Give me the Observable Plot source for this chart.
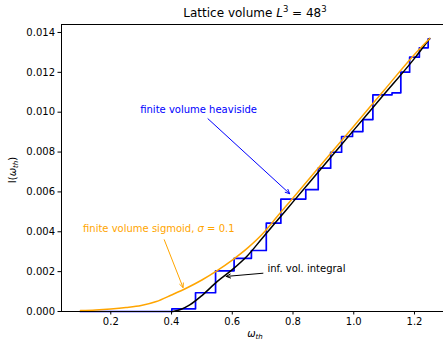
<!DOCTYPE html>
<html><head><meta charset="utf-8">
<script src="https://cdn.jsdelivr.net/npm/d3@7"></script>
<script src="https://cdn.jsdelivr.net/npm/@observablehq/plot@0.6"></script>
<style>
html,body{margin:0;padding:0;background:#fff}
svg{font-family:"DejaVu Sans",sans-serif}
</style>
</head><body><div id="chart"></div>
<script>
// finite volume heaviside (step function)
const stepX = [0.10, 0.401, 0.479, 0.545, 0.606, 0.663, 0.712, 0.760, 0.842, 0.883, 0.924, 0.960, 0.996, 1.030, 1.063, 1.126, 1.155, 1.184, 1.216, 1.245, 1.25];
const stepY = [0, 0.000135, 0.00094, 0.00204, 0.00267, 0.00306, 0.00443, 0.00564, 0.00611, 0.00719, 0.00799, 0.00878, 0.00903, 0.00963, 0.01087, 0.01097, 0.01201, 0.01276, 0.01323, 0.01368, 0.01368];
// infinite volume integral
const infX = [0.404, 0.43, 0.46, 0.50, 0.55, 0.60, 0.65, 0.70, 0.75, 0.80, 0.90, 1.00, 1.10, 1.20, 1.25];
const infY = [0, 0.0001, 0.00033, 0.0008, 0.0015, 0.0021, 0.0028, 0.0037, 0.0046, 0.0055, 0.0073, 0.0091, 0.0109, 0.0127, 0.0137];
// finite volume sigmoid
const sigX = [0.10, 0.15, 0.20, 0.25, 0.30, 0.35, 0.40, 0.45, 0.50, 0.55, 0.60, 0.65, 0.70, 0.75, 0.80, 0.90, 1.00, 1.10, 1.20, 1.25];
const sigY = [0.00005, 0.00008, 0.00013, 0.0002, 0.0003, 0.0005, 0.00083, 0.00118, 0.00158, 0.00205, 0.00258, 0.00318, 0.0039, 0.0048, 0.0057, 0.0075, 0.0093, 0.0111, 0.0129, 0.0137];

const xTicks = [0.2, 0.4, 0.6, 0.8, 1.0, 1.2];
const yTicks = [0, 0.002, 0.004, 0.006, 0.008, 0.010, 0.012, 0.014];

const annLabels = ["finite volume heaviside", "finite volume sigmoid, σ = 0.1", "inf. vol. integral"];
const annColors = ["#0000ff", "orange", "black"];
const annAnchor = ["middle", "middle", "start"];
const annTextX = [0.489, 0.358, 0.716];
const annTextY = [0.01014, 0.00417, 0.00216];
const arrX1 = [0.520, 0.376, 0.701];
const arrY1 = [0.00967, 0.0036, 0.00192];
const arrX2 = [0.789, 0.438, 0.580];
const arrY2 = [0.00591, 0.0012, 0.00176];

const xDomain = [0.0377, 1.2955];
const yDomain = [0, 0.0144];

const steps = stepX.map((x, i) => ({x, y: stepY[i]}));
const inf = infX.map((x, i) => ({x, y: infY[i]}));
const sig = sigX.map((x, i) => ({x, y: sigY[i]}));

const annMarks = [];
annLabels.forEach((t, i) => {
  annMarks.push(Plot.arrow([i], {x1: () => arrX1[i], y1: () => arrY1[i], x2: () => arrX2[i], y2: () => arrY2[i],
    stroke: annColors[i], strokeWidth: 1, headLength: 7, headAngle: 50}));
  annMarks.push(Plot.text([i], {x: () => annTextX[i], y: () => annTextY[i], text: () => t,
    fill: annColors[i], textAnchor: annAnchor[i], lineAnchor: "middle", fontSize: 10}));
});

const svg = Plot.plot({
  width: 444, height: 342,
  marginLeft: 61, marginRight: 1, marginTop: 24, marginBottom: 31,
  style: {fontFamily: "DejaVu Sans, sans-serif", fontSize: "10px", color: "black", background: "white"},
  x: {domain: xDomain, label: null},
  y: {domain: yDomain, label: null},
  marks: [
    Plot.line(steps, {x: "x", y: "y", curve: "step-after", stroke: "#0000ff", strokeWidth: 1.7}),
    Plot.line(inf, {x: "x", y: "y", curve: "monotone-x", stroke: "black", strokeWidth: 1.5}),
    Plot.line(sig, {x: "x", y: "y", curve: "monotone-x", stroke: "orange", strokeWidth: 1.5}),
    ...annMarks,
    Plot.ruleX([xDomain[0]], {stroke: "black", strokeWidth: 1}),
    Plot.ruleY([yDomain[0], yDomain[1]], {stroke: "black", strokeWidth: 1}),
    Plot.axisX({ticks: xTicks, tickFormat: d3.format(".1f"), tickSize: 3.5, tickPadding: 3, label: null, fontSize: 10}),
    Plot.axisY({ticks: yTicks, tickFormat: d3.format(".3f"), tickSize: 3.5, tickPadding: 3, label: null, fontSize: 10})
  ]
});
document.getElementById("chart").appendChild(svg);

const s = d3.select(svg);
// italic sigma in annotation
s.selectAll("text").each(function() {
  if (this.textContent === annLabels[1]) {
    const t = d3.select(this); t.text("");
    t.append("tspan").text("finite volume sigmoid, ");
    t.append("tspan").attr("font-style", "italic").text("σ");
    t.append("tspan").text(" = 0.1");
  }
});
// title
const title = s.append("text").attr("x", 255).attr("y", 17).attr("text-anchor", "middle")
  .attr("font-size", 12).attr("fill", "black");
title.append("tspan").text("Lattice volume ");
title.append("tspan").attr("font-style", "italic").text("L");
title.append("tspan").attr("font-size", 8.5).attr("dy", -5).text("3");
title.append("tspan").attr("dy", 5).text(" = 48");
title.append("tspan").attr("font-size", 8.5).attr("dy", -5).text("3");
// x label
const xl = s.append("text").attr("x", 255).attr("y", 337).attr("text-anchor", "middle").attr("font-size", 10).attr("fill", "black");
xl.append("tspan").attr("font-style", "italic").text("ω");
xl.append("tspan").attr("font-style", "italic").attr("font-size", 7).attr("dy", 2).text("th");
// y label
const yl = s.append("text").attr("transform", "translate(16,170) rotate(-90)").attr("text-anchor", "middle").attr("font-size", 10).attr("fill", "black");
yl.append("tspan").text("I(");
yl.append("tspan").attr("font-style", "italic").text("ω");
yl.append("tspan").attr("font-style", "italic").attr("font-size", 7).attr("dy", 2).text("th");
yl.append("tspan").attr("dy", -2).text(")");
</script>
</body></html>
